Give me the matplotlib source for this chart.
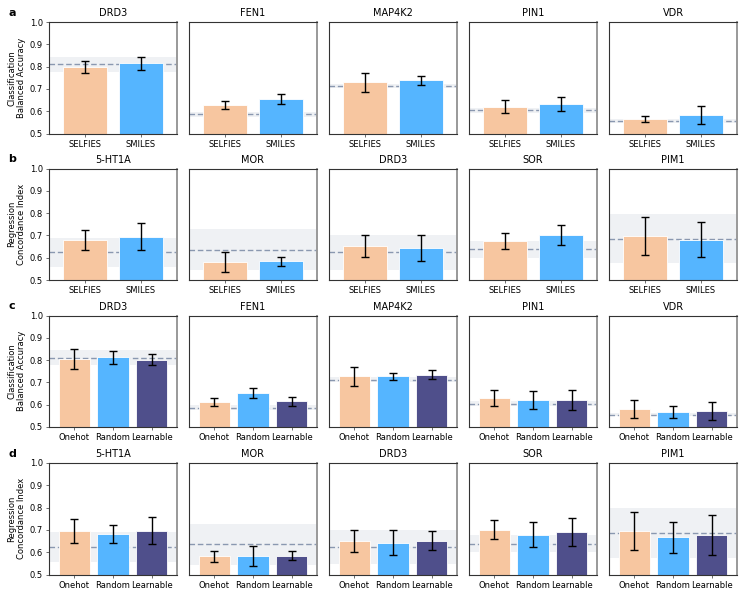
import matplotlib
matplotlib.use("Agg")
import matplotlib.pyplot as plt
import numpy as np

# ---------------- data ----------------
cls_targets = ["DRD3", "FEN1", "MAP4K2", "PIN1", "VDR"]
reg_targets = ["5-HT1A", "MOR", "DRD3", "SOR", "PIM1"]

rep_labels = ["SELFIES", "SMILES"]
emb_labels = ["Onehot", "Random", "Learnable"]

# baseline (dashed) mean and band half-width
cls_base = [0.811, 0.587, 0.713, 0.604, 0.556]
cls_base_sd = [0.034, 0.011, 0.009, 0.011, 0.008]
reg_base = [0.624, 0.636, 0.624, 0.638, 0.686]
reg_base_sd = [0.066, 0.092, 0.077, 0.038, 0.110]

# row a : classification, SELFIES / SMILES
a_mean = [[0.799, 0.814], [0.626, 0.656], [0.729, 0.738], [0.620, 0.632], [0.566, 0.584]]
a_err = [[0.026, 0.030], [0.018, 0.023], [0.041, 0.021], [0.030, 0.033], [0.013, 0.041]]

# row b : regression, SELFIES / SMILES
b_mean = [[0.679, 0.694], [0.582, 0.585], [0.652, 0.643], [0.676, 0.701], [0.696, 0.681]]
b_err = [[0.046, 0.060], [0.044, 0.020], [0.049, 0.058], [0.036, 0.044], [0.086, 0.078]]

# row c : classification, Onehot / Random / Learnable
c_mean = [[0.806, 0.812, 0.801], [0.612, 0.652, 0.616], [0.727, 0.727, 0.734],
          [0.630, 0.622, 0.621], [0.582, 0.567, 0.573]]
c_err = [[0.045, 0.030, 0.025], [0.018, 0.024, 0.020], [0.042, 0.015, 0.020],
         [0.034, 0.041, 0.045], [0.041, 0.025, 0.040]]

# row d : regression, Onehot / Random / Learnable
d_mean = [[0.694, 0.682, 0.696], [0.582, 0.582, 0.585], [0.652, 0.643, 0.651],
          [0.701, 0.678, 0.690], [0.696, 0.667, 0.679]]
d_err = [[0.053, 0.040, 0.060], [0.024, 0.044, 0.022], [0.049, 0.057, 0.043],
         [0.044, 0.056, 0.063], [0.086, 0.069, 0.090]]

yticks = [0.5, 0.6, 0.7, 0.8, 0.9, 1.0]
ylabels = ["Classification\nBalanced Accuracy", "Regression\nConcordance Index"]

# ---------------- style ----------------
c_peach = "#F7C6A0"
c_blue = "#55B5FF"
c_navy = "#4F4F8B"
band_col = "#EFF1F4"
dash_col = "#8A98B0"
spine_col = "#333333"

fig = plt.figure(figsize=(7.47, 5.98), dpi=100)
W, H = 747.0, 598.0
lefts = [49, 189, 329, 469, 609]
ax_w = 128
row_tops = [22, 168.5, 315.5, 463]
ax_h = 111.5

rows = [
    (cls_targets, rep_labels, a_mean, a_err, cls_base, cls_base_sd, ylabels[0], "a"),
    (reg_targets, rep_labels, b_mean, b_err, reg_base, reg_base_sd, ylabels[1], "b"),
    (cls_targets, emb_labels, c_mean, c_err, cls_base, cls_base_sd, ylabels[0], "c"),
    (reg_targets, emb_labels, d_mean, d_err, reg_base, reg_base_sd, ylabels[1], "d"),
]

for r, (targets, labels, means, errs, base, base_sd, ylab, letter) in enumerate(rows):
    colors = [c_peach, c_blue, c_navy][:len(labels)]
    for j in range(5):
        ax = fig.add_axes([lefts[j] / W, 1 - (row_tops[r] + ax_h) / H, ax_w / W, ax_h / H])
        x = np.arange(len(labels))
        ax.axhspan(base[j] - base_sd[j], base[j] + base_sd[j], color=band_col, zorder=0, lw=0)
        ax.axhline(base[j], color=dash_col, ls=(0, (4, 2)), lw=1.0, zorder=1)
        ax.bar(x, means[j], width=0.8, color=colors, edgecolor="white", linewidth=0.6, zorder=2)
        ax.errorbar(x, means[j], yerr=errs[j], fmt="none", ecolor="black",
                    elinewidth=1.0, capsize=3.2, capthick=1.0, zorder=3)
        ax.set_ylim(0.5, 1.0)
        ax.set_xlim(-0.65, len(labels) - 1 + 0.65)
        ax.set_xticks(x)
        ax.set_xticklabels(labels, fontsize=6)
        ax.set_yticks(yticks)
        ax.tick_params(axis="both", length=2.5, width=0.6, color="#555555", pad=2)
        ax.set_title(targets[j], fontsize=7, pad=4)
        for side in ["top", "left", "bottom"]:
            ax.spines[side].set_color(spine_col)
            ax.spines[side].set_linewidth(0.8)
        ax.spines["right"].set_color("#999999")
        ax.spines["right"].set_linewidth(1.4)
        if j == 0:
            ax.set_yticklabels([f"{v:.1f}" for v in yticks], fontsize=6)
            ax.set_ylabel(ylab, fontsize=6, linespacing=1.1)
            ax.yaxis.set_label_coords(-0.18, 0.5)
            ax.text(-0.32, 1.04, letter, transform=ax.transAxes, fontsize=8,
                    fontweight="bold", ha="left", va="bottom")
        else:
            ax.tick_params(axis="y", left=False, labelleft=False)

fig.savefig("out.png", dpi=100)
